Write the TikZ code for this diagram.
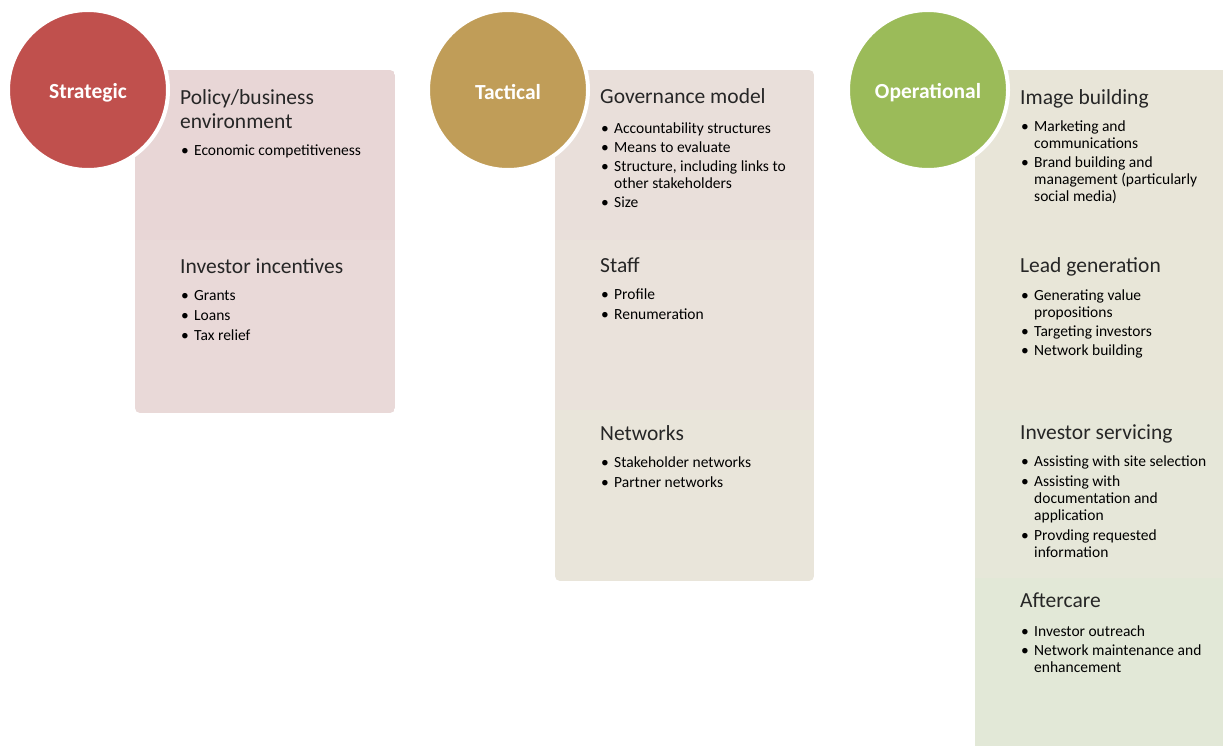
\documentclass[tikz,border=0pt]{standalone}
\usepackage{fontspec}
\setmainfont{Carlito}
\newcommand\bitem[1]{\makebox[13pt][l]{\textbullet}#1}
\newcommand\bcont{\hspace*{13pt}}
\definecolor{redc}{HTML}{C0504D}
\definecolor{tanc}{HTML}{C09D58}
\definecolor{grnc}{HTML}{9BBB59}
\definecolor{sA}{HTML}{E8D6D6}
\definecolor{sB}{HTML}{E9D9D8}
\definecolor{tA}{HTML}{E9DFDA}
\definecolor{tB}{HTML}{EAE2DB}
\definecolor{tC}{HTML}{E9E5DA}
\definecolor{oA}{HTML}{E8E5D8}
\definecolor{oB}{HTML}{E8E6D8}
\definecolor{oC}{HTML}{E6E7D9}
\definecolor{oD}{HTML}{E2E8D7}
\definecolor{headc}{HTML}{262626}
\begin{document}
\begin{tikzpicture}[x=1pt,y=-1pt,
  circ/.style={circle, minimum size=160pt, inner sep=0pt, draw=white, line width=4pt},
  circlabel/.style={yshift=-2.5pt, text=white, font=\fontsize{21.5}{24}\selectfont\bfseries},
  head/.style={anchor=base west, inner sep=0pt, text=headc,
    font=\fontsize{21.5}{24}\selectfont, align=left},
  items/.style={anchor=base west, inner sep=0pt, text=black,
    font=\fontsize{15.5}{17}\selectfont, align=left},
  panelclip/.style={rounded corners=5pt}]
\useasboundingbox (0,0) rectangle (1223,745);
\fill[white] (0,0) rectangle (1223,745);

% Strategic panel
\begin{scope}
  \clip[panelclip] (135,70) rectangle (395,413);
  \fill[sA] (135,70) rectangle (395,240);
  \fill[sB] (135,240) rectangle (395,413);
\end{scope}
% Tactical panel
\begin{scope}
  \clip[panelclip] (555,70) rectangle (814,581);
  \fill[tA] (555,70) rectangle (814,240);
  \fill[tB] (555,240) rectangle (814,410);
  \fill[tC] (555,410) rectangle (814,581);
\end{scope}
% Operational panel
\begin{scope}
  \clip[panelclip] (975,70) rectangle (1240,760);
  \fill[oA] (975,70) rectangle (1240,240);
  \fill[oB] (975,240) rectangle (1240,410);
  \fill[oC] (975,410) rectangle (1240,578);
  \fill[oD] (975,578) rectangle (1240,760);
\end{scope}

% Circles
\node[circ, fill=redc, label={[circlabel]center:Strategic}] (strategic) at (88,90) {};
\node[circ, fill=tanc, label={[circlabel]center:Tactical}] (tactical) at (508,90) {};
\node[circ, fill=grnc, label={[circlabel]center:Operational}] (operational) at (928,90) {};

% Multi-line nodes are anchored at the baseline of their last line.
% Strategic texts
\node[head] (policy) at (180,128) {Policy/business\\environment};
\node[items] (policyitems) at (181,155) {\bitem{Economic competitiveness}};
\node[head] (incent) at (180,273) {Investor incentives};
\node[items] (incentitems) at (181,340) {\bitem{Grants}\\[3pt]\bitem{Loans}\\[3pt]\bitem{Tax relief}};

% Tactical texts
\node[head] (gov) at (600,103) {Governance model};
\node[items] (govitems) at (601,207) {\bitem{Accountability structures}\\[2pt]\bitem{Means to evaluate}\\[2pt]\bitem{Structure, including links to}\\\bcont other stakeholders\\[2pt]\bitem{Size}};
\node[head] (staff) at (600,272) {Staff};
\node[items] (staffitems) at (601,319) {\bitem{Profile}\\[3pt]\bitem{Renumeration}};
\node[head] (netw) at (600,440) {Networks};
\node[items] (netwitems) at (601,487) {\bitem{Stakeholder networks}\\[3pt]\bitem{Partner networks}};

% Operational texts
\node[head] (image) at (1020,104) {Image building};
\node[items] (imageitems) at (1021,201) {\bitem{Marketing and}\\\bcont communications\\[2pt]\bitem{Brand building and}\\\bcont management (particularly\\\bcont social media)};
\node[head] (lead) at (1020,272) {Lead generation};
\node[items] (leaditems) at (1021,355) {\bitem{Generating value}\\\bcont propositions\\[2pt]\bitem{Targeting investors}\\[2pt]\bitem{Network building}};
\node[head] (serv) at (1020,439) {Investor servicing};
\node[items] (servitems) at (1021,557) {\bitem{Assisting with site selection}\\[3pt]\bitem{Assisting with}\\\bcont documentation and\\\bcont application\\[3pt]\bitem{Provding requested}\\\bcont information};
\node[head] (after) at (1020,607) {Aftercare};
\node[items] (afteritems) at (1021,672) {\bitem{Investor outreach}\\[2pt]\bitem{Network maintenance and}\\\bcont enhancement};
\end{tikzpicture}
\end{document}
